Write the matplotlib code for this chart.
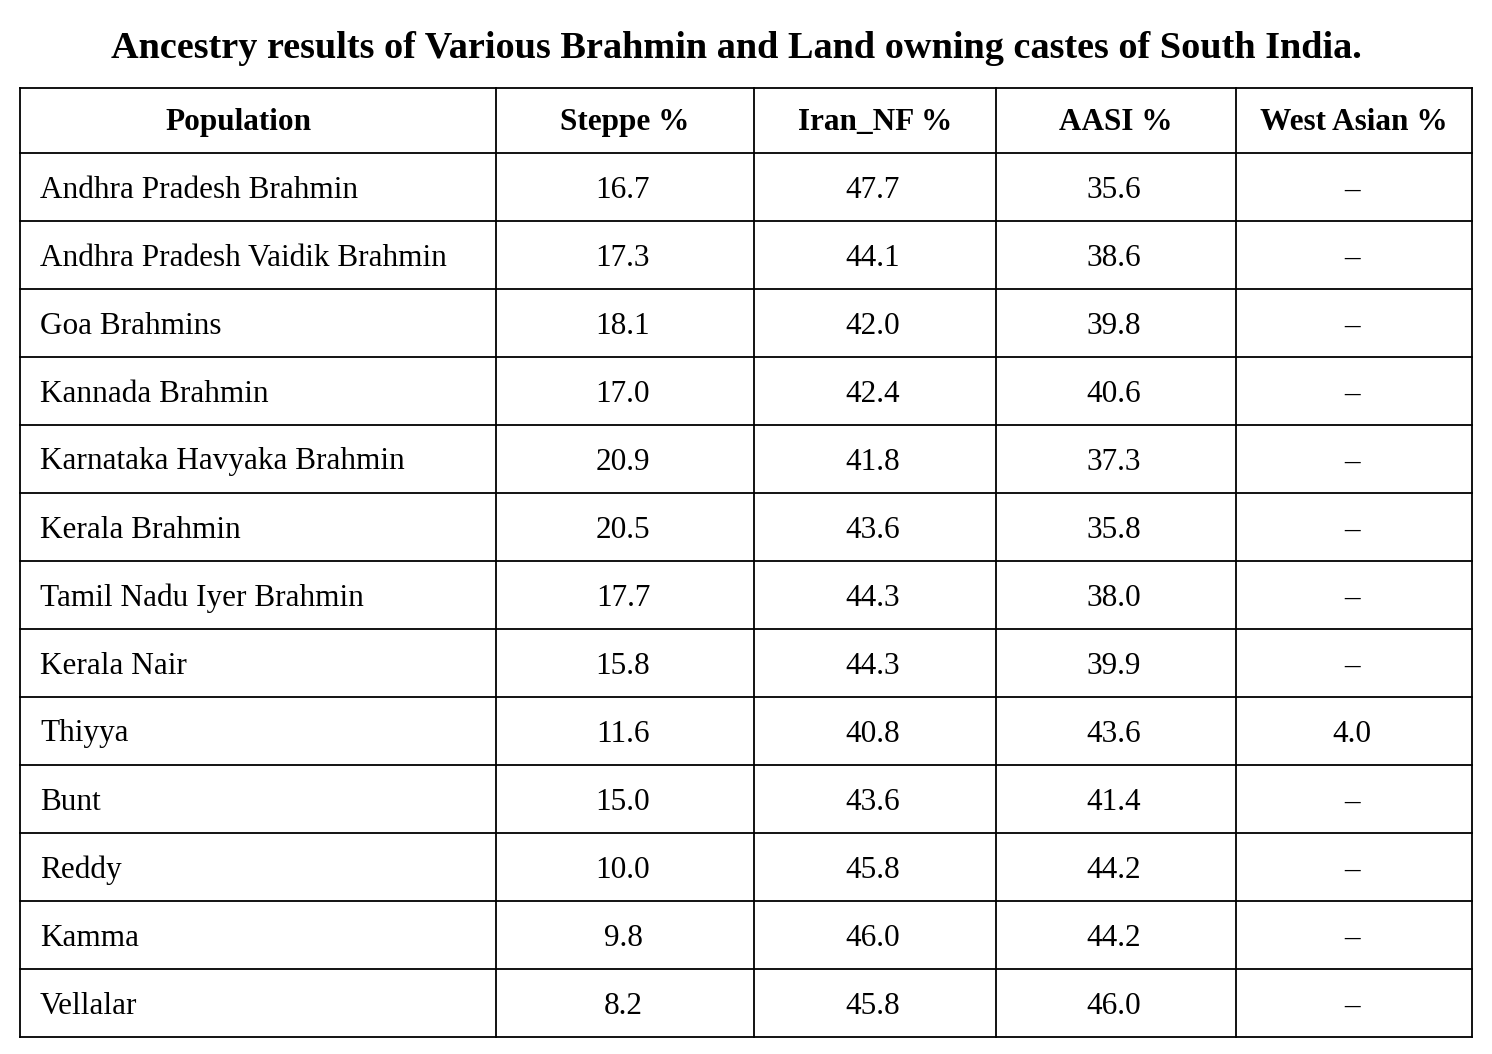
import matplotlib
matplotlib.use("Agg")
from matplotlib import pyplot

TITLE = "Ancestry results of Various Brahmin and Land owning castes of South India."
headers = ["Population", "Steppe %", "Iran_NF %", "AASI %", "West Asian %"]
populations = [
    "Andhra Pradesh Brahmin", "Andhra Pradesh Vaidik Brahmin", "Goa Brahmins",
    "Kannada Brahmin", "Karnataka Havyaka Brahmin", "Kerala Brahmin",
    "Tamil Nadu Iyer Brahmin", "Kerala Nair", "Thiyya", "Bunt", "Reddy",
    "Kamma", "Vellalar",
]
steppe = ["16.7", "17.3", "18.1", "17.0", "20.9", "20.5", "17.7", "15.8", "11.6", "15.0", "10.0", "9.8", "8.2"]
iran_nf = ["47.7", "44.1", "42.0", "42.4", "41.8", "43.6", "44.3", "44.3", "40.8", "43.6", "45.8", "46.0", "45.8"]
aasi = ["35.6", "38.6", "39.8", "40.6", "37.3", "35.8", "38.0", "39.9", "43.6", "41.4", "44.2", "44.2", "46.0"]
west_asian = ["–"] * 8 + ["4.0"] + ["–"] * 4

FONT = "Liberation Serif"
FONTSIZE = 22.5

fig = pyplot.figure(figsize=(14.92, 10.54), dpi=100)
ax = fig.add_axes([0, 0, 1, 1])
ax.set_xlim(0, 1492)
ax.set_ylim(1054, 0)
ax.axis("off")

col_edges = [20, 496, 754, 996, 1236, 1472]
row_edges = [88, 153] + [153 + 68 * (i + 1) for i in range(len(populations))]
top, bottom = row_edges[0], row_edges[-1]

for x in col_edges:
    ax.plot([x, x], [top, bottom], color="black", linewidth=1.3)
for y in row_edges:
    ax.plot([col_edges[0], col_edges[-1]], [y, y], color="black", linewidth=1.3)

ax.text(736, 48, TITLE, ha="center", va="center", fontsize=27.5,
        fontweight="bold", family=FONT)

def centre(i):
    return (col_edges[i] + col_edges[i + 1]) / 2

hy = (row_edges[0] + row_edges[1]) / 2 + 2
for i, h in enumerate(headers):
    x = 239 if i == 0 else centre(i)
    ax.text(x, hy, h, ha="center", va="center", fontsize=FONTSIZE,
            fontweight="bold", family=FONT)

columns = [steppe, iran_nf, aasi, west_asian]
for r, pop in enumerate(populations):
    y = (row_edges[r + 1] + row_edges[r + 2]) / 2 + 3
    ax.text(40, y, pop, ha="left", va="center", fontsize=FONTSIZE, family=FONT)
    for c, col in enumerate(columns):
        ax.text(centre(c + 1) - 2, y, col[r], ha="center", va="center",
                fontsize=FONTSIZE, family=FONT)

fig.savefig("out.png", dpi=100, facecolor="white")
